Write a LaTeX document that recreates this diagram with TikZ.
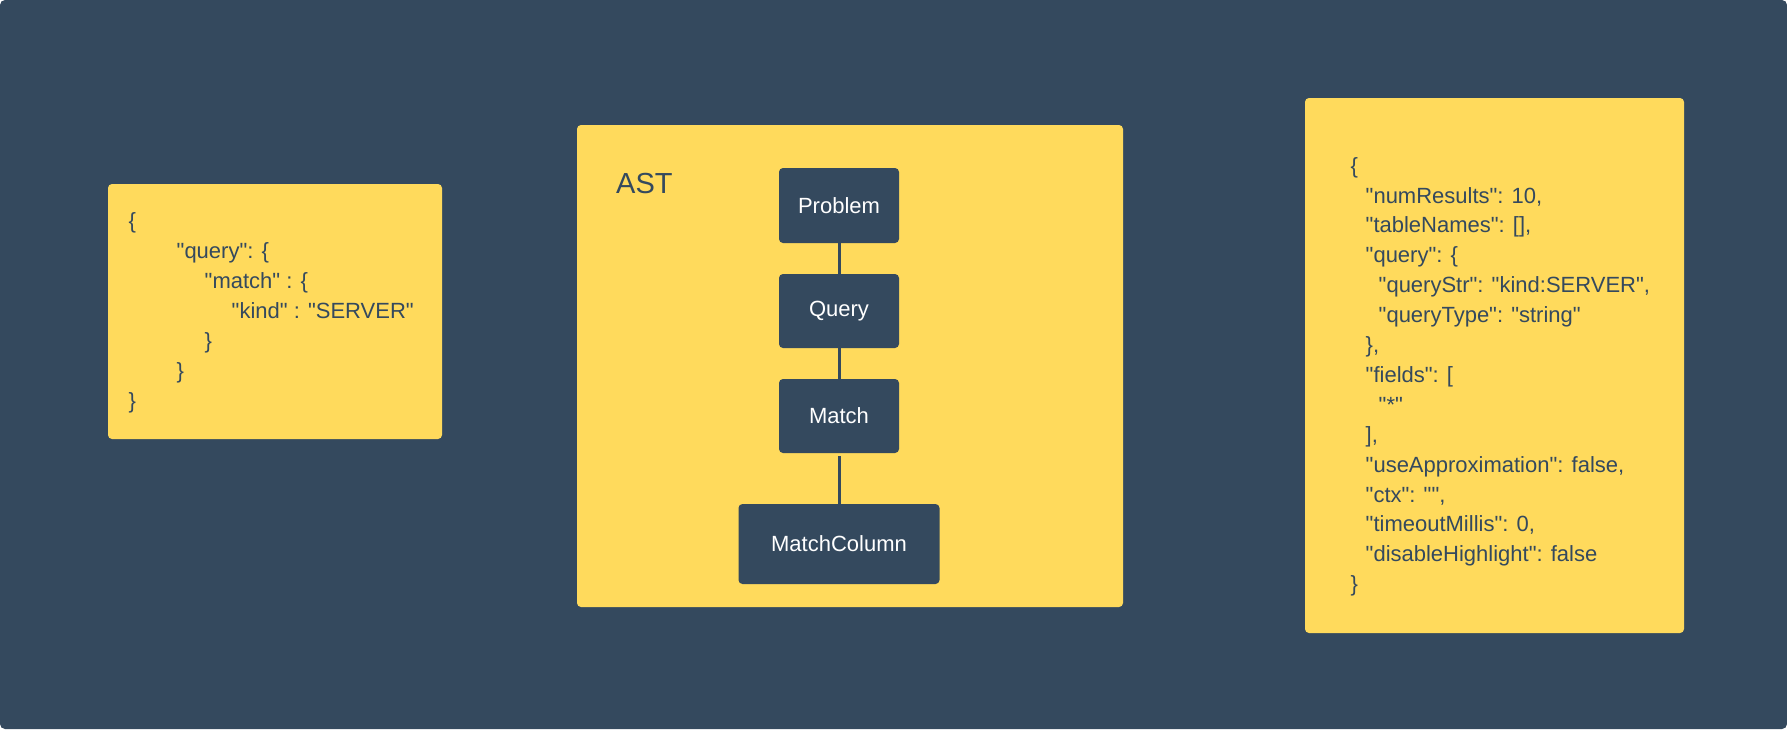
\documentclass[tikz,border=0pt]{standalone}
\usepackage{fontspec}
\setmainfont{Liberation Sans}[Ligatures=TeXOff]
\definecolor{slate}{HTML}{34495E}
\definecolor{sun}{HTML}{FFDA5C}

\begin{document}
\begin{tikzpicture}[x=1pt,y=-1pt,
    panel/.style={fill=sun,rounded corners=4pt},
    astnode/.style={fill=slate,rounded corners=4pt,text=white,minimum width=120pt,
      minimum height=74pt,inner sep=0pt,font=\fontsize{22}{26}\selectfont},
    json/.style={anchor=north west,align=left,inner sep=0pt,text=slate,
      font=\fontsize{22}{30}\selectfont}]
    \useasboundingbox (0,0) rectangle (1787,729);
    \fill[slate,rounded corners=5pt] (0,0) rectangle (1787,729);
    %% Panels
    \fill[panel] (108,184) rectangle (442,439);
    \fill[panel] (577,125) rectangle (1123,607);
    \fill[panel] (1305,98) rectangle (1684,633);
    %% Request
    \node[json] (request) at (128.5,212) {\{\\
      \hspace*{48pt}"query": \{\\
      \hspace*{76pt}"match" : \{\\
      \hspace*{103pt}"kind" : "SERVER"\\
      \hspace*{76pt}\}\\
      \hspace*{48pt}\}\\
      \}};
    %% Tree
    \node[anchor=base west,inner sep=0pt,text=slate,font=\fontsize{29}{34}\selectfont] (ast) at (616,193) {AST};
    \node[astnode,minimum height=75pt] (problem) at (839,205.5) {Problem};
    \node[astnode] (query) at (839,311) {Query};
    \node[astnode] (match) at (839,416) {Match};
    \node[astnode,minimum width=201pt,minimum height=80pt] (column) at (839,544) {MatchColumn};
    \draw[slate,line width=3pt] (problem) -- (query) (query) -- (match) (match.south) ++(0,3) -- (column.north);
    %% Search body
    \node[json,font=\fontsize{22}{29.9}\selectfont] (body) at (1350.5,157) {\{\\
      \hspace*{15pt}"numResults": 10,\\
      \hspace*{15pt}"tableNames": [],\\
      \hspace*{15pt}"query": \{\\
      \hspace*{28pt}"queryStr": "kind:SERVER",\\
      \hspace*{28pt}"queryType": "string"\\
      \hspace*{15pt}\},\\
      \hspace*{15pt}"fields": [\\
      \hspace*{28pt}"*"\\
      \hspace*{15pt}],\\
      \hspace*{15pt}"useApproximation": false,\\
      \hspace*{15pt}"ctx": "",\\
      \hspace*{15pt}"timeoutMillis": 0,\\
      \hspace*{15pt}"disableHighlight": false\\
      \}};
\end{tikzpicture}
\end{document}
